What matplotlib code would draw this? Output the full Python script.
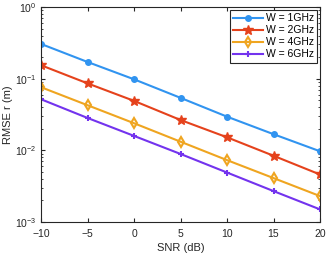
import matplotlib
matplotlib.use('Agg')
import matplotlib.pyplot as plt
from matplotlib.ticker import LogLocator, NullFormatter

plt.rcParams['font.family'] = ['Liberation Sans', 'DejaVu Sans']
plt.rcParams['mathtext.fontset'] = 'custom'
plt.rcParams['mathtext.rm'] = 'Liberation Sans'

snr = [-10, -5, 0, 5, 10, 15, 20]
rmse_1ghz = [0.305, 0.171, 0.098, 0.054, 0.0295, 0.0168, 0.0097]
rmse_2ghz = [0.154, 0.086, 0.049, 0.0265, 0.0152, 0.0084, 0.0046]
rmse_4ghz = [0.076, 0.0426, 0.0239, 0.0132, 0.0073, 0.0041, 0.0023]
rmse_6ghz = [0.0516, 0.0283, 0.0159, 0.0089, 0.0049, 0.0027, 0.0015]

fig = plt.figure(figsize=(3.27, 2.57), dpi=100)
ax = fig.add_axes([0.1254, 0.1362, 0.8532, 0.8366])

ax.plot(snr, rmse_1ghz, color='#3194f0', marker='o', markersize=4, linewidth=1.5, label='W = 1GHz')
ax.plot(snr, rmse_2ghz, color='#e5421c', marker='*', markersize=7, linewidth=1.5, label='W = 2GHz')
ax.plot(snr, rmse_4ghz, color='#efa520', marker='d', markersize=5, markerfacecolor='none',
        markeredgewidth=1.5, linewidth=1.5, label='W = 4GHz')
ax.plot(snr, rmse_6ghz, color='#7333ee', marker='+', markersize=5, markeredgewidth=1.5,
        linewidth=1.5, label='W = 6GHz')

ax.set_yscale('log')
ax.set_xlim(-10, 20)
ax.set_ylim(1e-3, 1)
ax.set_xticks([-10, -5, 0, 5, 10, 15, 20])
ax.yaxis.set_minor_locator(LogLocator(base=10, subs=range(2, 10)))
ax.yaxis.set_minor_formatter(NullFormatter())
ax.tick_params(which='both', direction='in', top=True, right=True, labelsize=7.5,
               colors='#262626', pad=3)
ax.tick_params(axis='x', pad=5)
ax.tick_params(which='major', length=3)
ax.tick_params(which='minor', length=1.5)
for s in ax.spines.values():
    s.set_color('#262626')
    s.set_linewidth(0.8)

ax.set_xlabel('SNR (dB)', fontsize=8, color='#262626', labelpad=3)
ax.set_ylabel('RMSE r (m)', fontsize=8, color='#262626', labelpad=1.5)

leg = ax.legend(loc='upper right', fontsize=7.5, fancybox=False, edgecolor='#262626',
                framealpha=1, handlelength=2.8, handletextpad=0.3, borderpad=0.3,
                labelspacing=0.2, borderaxespad=0.3)
leg.get_frame().set_linewidth(0.8)

fig.savefig('out.png', dpi=100)
